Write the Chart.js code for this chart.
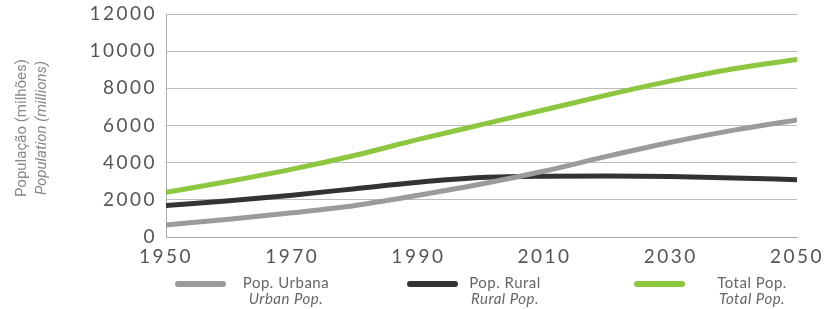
<!DOCTYPE html>
<html>
<head>
<meta charset="utf-8">
<script src="https://cdn.jsdelivr.net/npm/chart.js@4"></script>
<style>
  html, body { margin: 0; padding: 0; background: #fff; }
  #wrap { width: 826px; height: 309px; }
</style>
</head>
<body>
<div id="wrap"><canvas id="chart" width="826" height="309"></canvas></div>
<script>
const years = [1950, 1960, 1970, 1980, 1990, 2000, 2010, 2020, 2030, 2040, 2050];
const urbanPop = [650, 950, 1300, 1700, 2250, 2850, 3550, 4350, 5100, 5750, 6300];
const ruralPop = [1700, 1950, 2250, 2600, 2950, 3200, 3270, 3280, 3250, 3180, 3080];
const totalPop = [2400, 3000, 3650, 4400, 5250, 6050, 6850, 7650, 8400, 9050, 9550];

const labelsPt = ["Pop. Urbana", "Pop. Rural", "Total Pop."];
const labelsEn = ["Urban Pop.", "Rural Pop.", "Total Pop."];
const colors = ["#9b9b9d", "#333333", "#8dc63f"];

const toPoints = (vals) => vals.map((v, i) => ({ x: years[i], y: v }));

// wider tracking for the tick labels
const spacing = {
  id: "spacing",
  beforeDraw(chart) { chart.ctx.letterSpacing = "2.5px"; },
  afterDatasetsDraw(chart) { chart.ctx.letterSpacing = "0px"; }
};

// y axis title and custom two-line legend
const extras = {
  id: "extras",
  afterDraw(chart) {
    const c = chart.ctx;
    c.save();
    c.letterSpacing = "0px";
    c.fillStyle = "#888";
    c.textAlign = "center";
    c.textBaseline = "middle";
    c.translate(22, 128);
    c.rotate(-Math.PI / 2);
    c.font = "15px 'Roboto', sans-serif";
    c.fillText("População (milhões)", 0, 0);
    c.font = "italic 15px 'Roboto', sans-serif";
    c.fillText("Population (millions)", 0, 20);
    c.restore();

    const swatchX = [178, 410, 637];
    const textX = [286, 505, 752];
    c.save();
    c.letterSpacing = "0.5px";
    chart.data.datasets.forEach((ds, i) => {
      c.strokeStyle = ds.borderColor;
      c.lineWidth = 6;
      c.lineCap = "round";
      c.beginPath();
      c.moveTo(swatchX[i], 284);
      c.lineTo(swatchX[i] + 45, 284);
      c.stroke();
      c.fillStyle = "#666";
      c.textAlign = "center";
      c.textBaseline = "middle";
      c.font = "15px 'Lato', sans-serif";
      c.fillText(labelsPt[i], textX[i], 283);
      c.font = "italic 15px 'Lato', sans-serif";
      c.fillText(labelsEn[i], textX[i], 299);
    });
    c.restore();
  }
};

const ctx = document.getElementById("chart");

new Chart(ctx, {
  type: "line",
  data: {
    datasets: [
      { label: labelsPt[0], data: toPoints(urbanPop), borderColor: colors[0] },
      { label: labelsPt[1], data: toPoints(ruralPop), borderColor: colors[1] },
      { label: labelsPt[2], data: toPoints(totalPop), borderColor: colors[2] },
    ],
  },
  options: {
    responsive: false,
    animation: false,
    events: [],
    layout: { padding: { top: 14, right: 29, left: 0, bottom: 0 } },
    elements: {
      line: { borderWidth: 5, tension: 0.4, cubicInterpolationMode: "monotone", borderCapStyle: "round" },
      point: { radius: 0 },
    },
    plugins: {
      legend: { display: false },
      tooltip: { enabled: false },
    },
    scales: {
      x: {
        type: "linear",
        min: 1950,
        max: 2050,
        afterFit: (s) => { s.height = 72; s.paddingRight = 0; s.paddingLeft = 0; },
        grid: { display: false },
        border: { display: true, color: "#aaa", width: 1 },
        ticks: {
          stepSize: 20,
          padding: 0,
          color: "#555",
          font: { family: "Lato", size: 19 },
          callback: (v) => String(v),
        },
      },
      y: {
        min: 0,
        max: 12000,
        afterFit: (s) => { s.width = 166; s.paddingTop = 0; s.paddingBottom = 0; },
        grid: { color: "#bbb", lineWidth: 1, drawTicks: false },
        border: { display: true, color: "#aaa", width: 1 },
        ticks: {
          stepSize: 2000,
          padding: 9,
          color: "#555",
          font: { family: "Lato", size: 19, lineHeight: 1 },
          callback: (v) => String(v),
        },
      },
    },
  },
  plugins: [spacing, extras],
});
</script>
</body>
</html>
